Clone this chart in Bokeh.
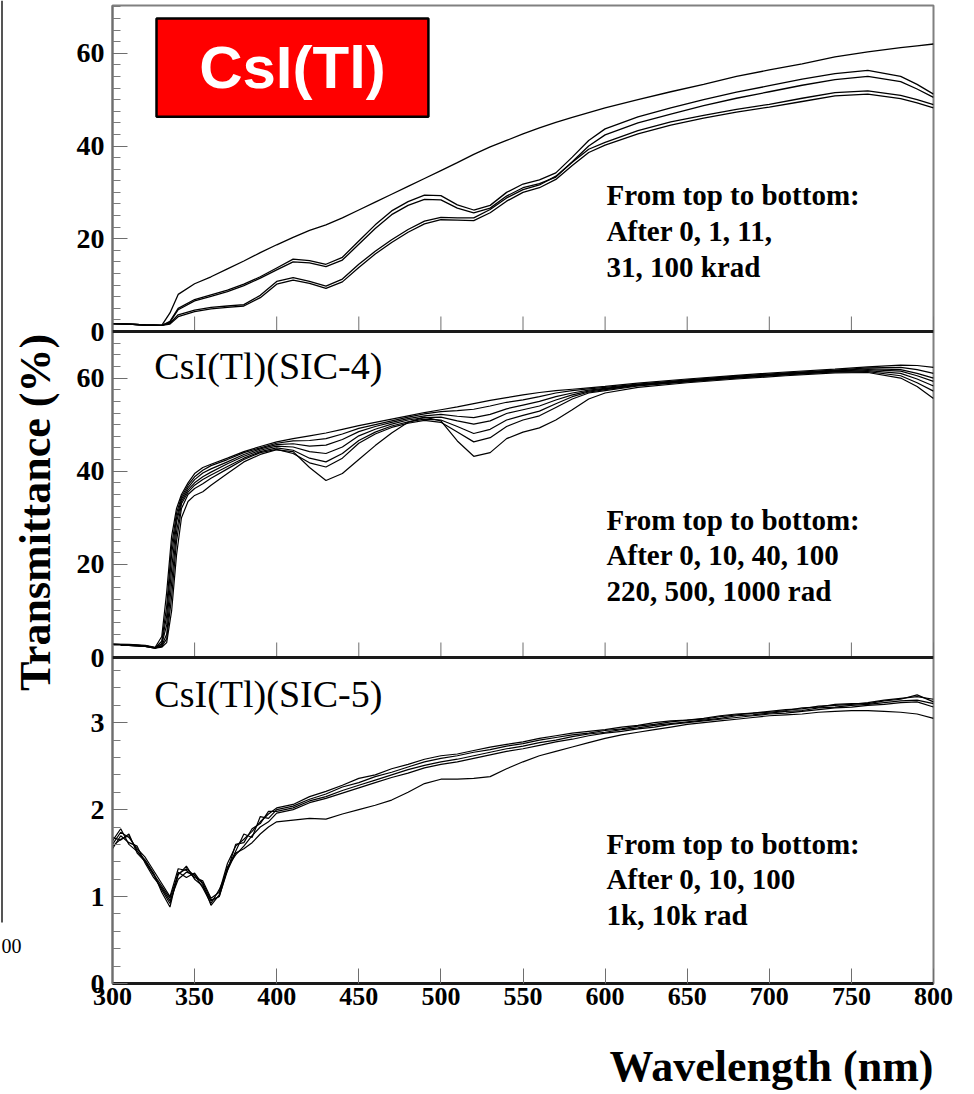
import math
from bokeh.plotting import figure
from bokeh.layouts import row, column
from bokeh.models import Range1d, FixedTicker, Label, Span, CustomJSTickFormatter, Title
from bokeh.core.properties import value
from bokeh.embed import file_html
from bokeh.resources import INLINE

SERIF = "Liberation Serif"
SANS = "Liberation Sans"

# ---------------- data: top panel, CsI(Tl), doses in krad ----------------
TOP_WL = [300, 310, 320, 330, 335, 340, 350, 360, 370, 380, 390, 400, 410, 420, 430, 440,
          450, 460, 470, 480, 490, 500, 510, 520, 530, 540, 550, 560, 570, 580, 590, 600,
          620, 640, 660, 680, 700, 720, 740, 760, 780, 790, 800]
TOP_0 = [1.7, 1.6, 1.4, 1.3, 4.0, 8.0, 10.3, 11.8, 13.5, 15.2, 17.0, 18.7, 20.3, 21.8, 23.0, 24.5,
         26.2, 27.9, 29.6, 31.3, 33.0, 34.7, 36.4, 38.2, 39.8, 41.2, 42.6, 43.9, 45.1, 46.2, 47.2, 48.2,
         50.0, 51.7, 53.3, 55.0, 56.4, 57.7, 59.2, 60.3, 61.2, 61.6, 62.0]
TOP_1 = [1.7, 1.6, 1.4, 1.3, 2.2, 5.0, 6.9, 7.9, 8.9, 10.2, 11.8, 13.7, 15.6, 15.3, 14.5, 16.0,
         19.5, 23.0, 26.0, 28.0, 29.4, 29.3, 27.3, 26.2, 27.2, 30.0, 31.8, 32.7, 34.2, 37.6, 41.2, 43.7,
         46.3, 48.2, 50.0, 51.6, 53.0, 54.4, 55.6, 56.3, 55.0, 53.3, 51.2]
TOP_11 = [1.7, 1.6, 1.4, 1.3, 2.0, 4.7, 6.6, 7.6, 8.6, 9.9, 11.5, 13.3, 15.0, 14.8, 14.0, 15.4,
          18.8, 22.2, 25.2, 27.2, 28.5, 28.4, 26.6, 25.6, 26.6, 29.2, 31.0, 31.9, 33.3, 36.6, 40.0, 42.4,
          45.0, 46.9, 48.7, 50.3, 51.7, 53.1, 54.3, 55.0, 53.9, 52.3, 50.5]
TOP_31 = [1.7, 1.6, 1.4, 1.3, 1.8, 3.6, 4.6, 5.2, 5.5, 5.8, 7.8, 10.8, 11.6, 10.8, 9.8, 11.3,
          14.5, 17.3, 19.8, 22.0, 23.8, 24.6, 24.5, 24.5, 26.3, 28.8, 30.6, 31.6, 33.5, 36.5, 39.3, 40.8,
          43.3, 45.2, 46.6, 47.9, 49.0, 50.3, 51.5, 51.9, 50.9, 50.0, 48.9]
TOP_100 = [1.7, 1.6, 1.4, 1.3, 1.6, 3.2, 4.3, 4.9, 5.2, 5.5, 7.3, 10.2, 11.1, 10.4, 9.3, 10.7,
           13.8, 16.7, 19.2, 21.4, 23.2, 24.1, 24.0, 23.9, 25.6, 28.1, 30.0, 31.0, 32.8, 35.8, 38.6, 40.2,
           42.6, 44.5, 46.0, 47.3, 48.4, 49.6, 50.8, 51.2, 50.2, 49.3, 48.2]
TOP_SERIES = [TOP_0, TOP_1, TOP_11, TOP_31, TOP_100]

# ---------------- data: middle panel, CsI(Tl)(SIC-4), doses in rad ----------------
MID_WL = [300, 310, 320, 326, 330, 333, 336, 339, 342, 346, 350, 355, 360,
          370, 380, 390, 400, 410, 420, 430, 440, 450, 460, 470, 480, 490, 500, 510, 520,
          530, 540, 550, 560, 570, 580, 590, 600, 620, 650, 680, 710, 740, 760, 780, 790, 800]
MID_0 = [2.9, 2.8, 2.6, 2.2, 4.5, 14, 26, 32, 35, 37.5, 39.5, 40.8, 41.5,
         42.8, 44.2, 45.3, 46.3, 47.0, 47.6, 48.2, 49.0, 49.8, 50.5, 51.2, 51.9, 52.6, 53.2, 53.8, 54.5,
         55.2, 55.8, 56.4, 56.9, 57.3, 57.6, 57.9, 58.2, 58.9, 59.8, 60.6, 61.3, 61.9, 62.4, 62.8, 62.7, 62.3]
MID_10 = [2.8, 2.7, 2.5, 2.1, 3.5, 11, 24, 31, 34.5, 37, 38.8, 40.2, 41.2,
          42.5, 44.0, 45.0, 46.0, 46.5, 46.6, 47.0, 48.0, 49.2, 50.0, 50.8, 51.6, 52.3, 52.8, 53.0, 53.3,
          54.0, 54.8, 55.3, 56.0, 56.8, 57.3, 57.7, 58.0, 58.7, 59.6, 60.4, 61.1, 61.7, 62.2, 62.3, 61.8, 61.0]
MID_40 = [2.7, 2.6, 2.4, 2.0, 3.0, 9, 22, 30, 34, 36.5, 38.2, 39.6, 40.5,
          42.0, 43.6, 44.8, 45.7, 45.9, 45.4, 45.6, 46.8, 48.5, 49.6, 50.5, 51.3, 51.9, 52.2, 51.8, 51.5,
          52.2, 53.4, 54.2, 55.0, 56.0, 56.8, 57.4, 57.8, 58.6, 59.5, 60.3, 61.0, 61.6, 62.0, 61.8, 61.0, 60.0]
MID_100 = [2.8, 2.7, 2.5, 2.1, 2.8, 7, 19, 29, 33.5, 36, 37.5, 38.8, 39.8,
           41.6, 43.2, 44.5, 45.4, 45.2, 44.2, 43.8, 45.2, 47.6, 49.0, 50.1, 51.0, 51.5, 51.6, 50.8, 50.1,
           50.8, 52.4, 53.2, 54.0, 55.3, 56.4, 57.2, 57.7, 58.5, 59.4, 60.2, 60.9, 61.5, 61.8, 61.5, 60.5, 59.3]
MID_220 = [2.7, 2.6, 2.4, 2.0, 2.5, 5, 16, 27, 33, 35.5, 37, 38.2, 39.2,
           41.0, 42.8, 44.2, 45.0, 44.5, 42.8, 42.0, 43.8, 46.6, 48.4, 49.7, 50.6, 51.2, 51.0, 49.6, 48.1,
           49.0, 51.0, 52.0, 52.9, 54.5, 56.0, 57.0, 57.5, 58.4, 59.3, 60.1, 60.8, 61.4, 61.6, 61.0, 59.8, 58.3]
MID_500 = [2.8, 2.7, 2.5, 2.1, 2.4, 4, 13, 25, 32, 35, 36.3, 37.3, 38.5,
           40.5, 42.5, 44.0, 44.7, 43.8, 41.8, 40.9, 42.8, 46.0, 48.0, 49.4, 50.3, 50.9, 50.5, 48.4, 46.3,
           47.2, 49.6, 51.0, 51.9, 53.7, 55.5, 56.8, 57.3, 58.3, 59.2, 60.0, 60.7, 61.3, 61.4, 60.5, 59.0, 57.2]
MID_1000 = [2.7, 2.6, 2.4, 2.0, 2.2, 3.2, 10, 22, 30, 33.5, 34.8, 35.6, 37.0,
            39.5, 42.0, 43.6, 44.6, 44.2, 40.8, 38.0, 39.5, 42.5, 45.5, 48.2, 50.5, 51.6, 50.8, 46.5, 43.2,
            44.0, 47.0, 48.4, 49.3, 51.0, 53.2, 55.5, 56.8, 58.0, 59.0, 59.8, 60.5, 61.1, 61.2, 60.0, 58.2, 55.6]
MID_SERIES = [MID_0, MID_10, MID_40, MID_100, MID_220, MID_500, MID_1000]

# ---------------- data: bottom panel, CsI(Tl)(SIC-5), doses in rad ----------------
BOT_WL = [300, 305, 310, 315, 320, 325, 330, 335, 340, 345, 350, 355, 360, 365, 370, 375, 380,
          385, 390, 395, 400,
          410, 420, 430, 440, 450, 460, 470, 480, 490, 500, 510, 520, 530, 540, 550, 560, 570,
          580, 590, 600, 610, 620, 630, 640, 650, 660, 670, 680, 690, 700, 710, 720, 730, 740,
          750, 760, 770, 780, 790, 800]
BOT_0 = [1.60, 1.74, 1.68, 1.55, 1.45, 1.30, 1.15, 1.00, 1.32, 1.30, 1.22, 1.18, 0.98, 1.05, 1.38, 1.58,
         1.66, 1.75, 1.86, 1.95, 2.02,
         2.06, 2.15, 2.21, 2.28, 2.36, 2.40, 2.47, 2.52, 2.58, 2.62, 2.64, 2.68, 2.72, 2.75, 2.78, 2.82,
         2.85, 2.88, 2.90, 2.92, 2.95, 2.97, 3.00, 3.02, 3.03, 3.05, 3.08, 3.10, 3.11, 3.13, 3.15, 3.16,
         3.19, 3.20, 3.21, 3.23, 3.26, 3.28, 3.30, 3.27]
BOT_10 = [1.68, 1.65, 1.72, 1.50, 1.40, 1.25, 1.08, 0.92, 1.25, 1.35, 1.20, 1.12, 0.95, 1.00, 1.32, 1.52,
          1.72, 1.68, 1.92, 1.90, 2.00,
          2.04, 2.12, 2.18, 2.26, 2.31, 2.38, 2.43, 2.49, 2.55, 2.59, 2.62, 2.66, 2.69, 2.73, 2.76, 2.80,
          2.83, 2.86, 2.88, 2.91, 2.93, 2.96, 2.98, 3.01, 3.03, 3.04, 3.07, 3.09, 3.11, 3.12, 3.14, 3.17,
          3.18, 3.21, 3.22, 3.22, 3.25, 3.27, 3.32, 3.24]
BOT_100 = [1.55, 1.70, 1.62, 1.58, 1.38, 1.22, 1.10, 0.95, 1.20, 1.28, 1.25, 1.10, 0.92, 1.08, 1.30, 1.60,
           1.62, 1.78, 1.84, 1.98, 1.98,
           2.02, 2.10, 2.15, 2.22, 2.28, 2.34, 2.40, 2.46, 2.51, 2.55, 2.58, 2.62, 2.66, 2.70, 2.73, 2.77,
           2.80, 2.84, 2.87, 2.89, 2.92, 2.94, 2.97, 2.99, 3.01, 3.03, 3.05, 3.08, 3.09, 3.11, 3.13, 3.14,
           3.17, 3.18, 3.20, 3.21, 3.23, 3.25, 3.26, 3.22]
BOT_1K = [1.64, 1.78, 1.60, 1.52, 1.42, 1.27, 1.05, 0.88, 1.28, 1.22, 1.27, 1.14, 0.90, 1.02, 1.34, 1.48,
          1.58, 1.70, 1.80, 1.86, 1.96,
          2.00, 2.08, 2.13, 2.19, 2.25, 2.31, 2.37, 2.42, 2.48, 2.52, 2.55, 2.59, 2.63, 2.67, 2.70, 2.74,
          2.78, 2.81, 2.85, 2.88, 2.90, 2.93, 2.95, 2.98, 3.00, 3.02, 3.04, 3.06, 3.08, 3.10, 3.11, 3.13,
          3.15, 3.17, 3.18, 3.20, 3.21, 3.23, 3.24, 3.18]
BOT_10K = [1.58, 1.66, 1.70, 1.53, 1.40, 1.26, 1.12, 0.98, 1.26, 1.32, 1.24, 1.16, 0.96, 1.00, 1.30, 1.50,
           1.55, 1.62, 1.72, 1.80, 1.86,
           1.88, 1.90, 1.89, 1.95, 2.00, 2.05, 2.11, 2.20, 2.30, 2.35, 2.35, 2.36, 2.38, 2.47, 2.55, 2.62,
           2.67, 2.72, 2.77, 2.82, 2.86, 2.89, 2.92, 2.95, 2.98, 3.00, 3.02, 3.04, 3.06, 3.08, 3.09, 3.10,
           3.12, 3.13, 3.14, 3.14, 3.13, 3.12, 3.10, 3.05]
BOT_SERIES = [BOT_0, BOT_10, BOT_100, BOT_1K, BOT_10K]

# ---------------- ticks and texts ----------------
X_TICKS = [300, 350, 400, 450, 500, 550, 600, 650, 700, 750, 800]
PCT_TICKS = [0, 20, 40, 60]
PCT_MINOR_STEP = 2.5
BOT_TICKS = [0, 1, 2, 3]
BOT_MINOR_STEP = 0.2
TOP_MAX, MID_MAX, BOT_MAX = 70.3, 70.0, 3.75

Y_TITLE = "Transmittance (%)"
X_TITLE = "Wavelength (nm)"
BOX_TEXT = "CsI(Tl)"
MID_TITLE = "CsI(Tl)(SIC-4)"
BOT_TITLE = "CsI(Tl)(SIC-5)"
TOP_NOTE = ["From top to bottom:", "After 0, 1, 11,", "31, 100 krad"]
MID_NOTE = ["From top to bottom:", "After 0, 10, 40, 100", "220, 500, 1000 rad"]
BOT_NOTE = ["From top to bottom:", "After 0, 10, 100", "1k, 10k rad"]

FRAME_W = 821
PANEL_H = 326
LEFT_W = 60
GRAY = "#6e6e6e"

# ---------------- main figure: three stacked panels ----------------
p = figure(frame_width=FRAME_W, frame_height=3 * PANEL_H,
           x_range=Range1d(300, 800), y_range=Range1d(0, 3),
           output_backend="svg", toolbar_location=None,
           min_border_left=52, min_border_right=41, min_border_top=5, min_border_bottom=100)
p.grid.visible = False
p.outline_line_color = "#808080"
p.outline_line_width = 2
p.background_fill_color = "white"
p.border_fill_color = "white"

# panel slot k (0 bottom, 1 middle, 2 top) and each panel's own value range
panels = {
    "top": (2, TOP_MAX),
    "mid": (1, MID_MAX),
    "bot": (0, BOT_MAX),
}
subs = {}
for name, (slot, vmax) in panels.items():
    subs[name] = p.subplot(x_source=p.x_range, y_source=Range1d(0, vmax),
                           x_target=p.x_range, y_target=Range1d(slot, slot + 1))

# left axis: tick positions of each panel expressed in the stacked frame
major_pos, major_lab, minor_pos = [], [], []
for name, ticks, step in (("bot", BOT_TICKS, BOT_MINOR_STEP), ("mid", PCT_TICKS, PCT_MINOR_STEP),
                          ("top", PCT_TICKS, PCT_MINOR_STEP)):
    slot, vmax = panels[name]
    for t in ticks:
        major_pos.append(slot + t / vmax)
        major_lab.append(str(t))
    n = 1
    while n * step < vmax - 1e-9:
        v = n * step
        if all(abs(v - t) > 1e-9 for t in ticks):
            minor_pos.append(slot + v / vmax)
        n += 1

ya = p.yaxis[0]
ya.ticker = FixedTicker(ticks=major_pos, minor_ticks=minor_pos)
ya.formatter = CustomJSTickFormatter(args=dict(pos=major_pos, lab=major_lab), code="""
    for (let i = 0; i < pos.length; i++) {
        if (Math.abs(pos[i] - tick) < 1e-6) { return lab[i] }
    }
    return ""
""")
ya.major_tick_in = 15
ya.major_tick_out = 0
ya.minor_tick_in = 8
ya.minor_tick_out = 0
ya.axis_line_color = GRAY
ya.axis_line_width = 2
ya.major_tick_line_color = GRAY
ya.minor_tick_line_color = "#7a7a7a"
ya.major_label_text_font = SERIF
ya.major_label_text_font_style = "bold"
ya.major_label_text_font_size = "28px"
ya.major_label_text_color = "black"
ya.major_label_standoff = 8

xa = p.xaxis[0]
xa.ticker = FixedTicker(ticks=X_TICKS)
xa.axis_line_color = "#1a1a1a"
xa.axis_line_width = 3
xa.major_tick_in = 15
xa.major_tick_out = 0
xa.major_tick_line_color = GRAY
xa.minor_tick_line_color = None
xa.major_label_text_font = SERIF
xa.major_label_text_font_style = "bold"
xa.major_label_text_font_size = "26px"
xa.major_label_text_color = "black"
xa.major_label_standoff = 4

# x title, right-aligned under the frame
p.add_layout(Title(text=X_TITLE, align="right", text_font=SERIF, text_font_style="bold",
                   text_font_size="44px", text_color="black", standoff=64), "below")

# panel separators (thick axis lines) with their inward wavelength ticks
for slot in (1, 2):
    p.add_layout(Span(location=slot, dimension="width", line_color="#1a1a1a", line_width=3))
    p.segment(x0=X_TICKS, y0=[slot] * len(X_TICKS), x1=X_TICKS,
              y1=[slot + 15 / PANEL_H] * len(X_TICKS), line_color=GRAY, line_width=1)

# ---- top panel ----
sp = subs["top"]
for s in TOP_SERIES:
    sp.line(TOP_WL, s, line_color="black", line_width=1.3)
sp.quad(left=[326.8], right=[492.4], bottom=[46.3], top=[67.5],
        fill_color="#ff0000", line_color="black", line_width=2.5)
sp.text(x=[409.6], y=[57.0], text=[BOX_TEXT], text_align="center", text_baseline="middle",
        text_font=value(SANS), text_font_style="bold", text_font_size="60px", text_color="white")
sp.text(x=[600.9] * 3, y=[29.5, 21.7, 13.9], text=TOP_NOTE, text_align="left", text_baseline="middle",
        text_font=value(SERIF), text_font_style="bold", text_font_size="29px", text_color="black")

# ---- middle panel ----
sp = subs["mid"]
for s in MID_SERIES:
    sp.line(MID_WL, s, line_color="black", line_width=1.2)
sp.text(x=[325.5], y=[62.5], text=[MID_TITLE], text_align="left", text_baseline="middle",
        text_font=value(SERIF), text_font_size="38px", text_color="black")
sp.text(x=[600.9] * 3, y=[29.5, 22.0, 14.2], text=MID_NOTE, text_align="left", text_baseline="middle",
        text_font=value(SERIF), text_font_style="bold", text_font_size="29px", text_color="black")

# ---- bottom panel ----
sp = subs["bot"]
for s in BOT_SERIES:
    sp.line(BOT_WL, s, line_color="black", line_width=1.2)
sp.text(x=[325.5], y=[3.33], text=[BOT_TITLE], text_align="left", text_baseline="middle",
        text_font=value(SERIF), text_font_size="38px", text_color="black")
sp.text(x=[600.9] * 3, y=[1.61, 1.20, 0.79], text=BOT_NOTE, text_align="left", text_baseline="middle",
        text_font=value(SERIF), text_font_style="bold", text_font_size="29px", text_color="black")

# ---- left strip with the y title ----
lf = figure(width=LEFT_W, height=1094, x_range=Range1d(0, LEFT_W), y_range=Range1d(0, 1094),
            output_backend="svg", toolbar_location=None, min_border=0,
            x_axis_location=None, y_axis_location=None)
lf.grid.visible = False
lf.outline_line_color = None
lf.segment(x0=[1.5], y0=[172], x1=[1.5], y1=[1094], line_color="#555555", line_width=2)
lf.add_layout(Label(x=1, y=1094 - 945, text="00", text_align="left", text_baseline="middle",
                    text_font=SERIF, text_font_size="20px", text_color="black"))
lf.add_layout(Label(x=35, y=1094 - 512, angle=math.pi / 2, text=Y_TITLE,
                    text_align="center", text_baseline="middle",
                    text_font=SERIF, text_font_style="bold", text_font_size="44px",
                    text_color="black"))

layout = row(lf, column(p, spacing=0), spacing=0)

with open("out.html", "w") as f:
    f.write(file_html(layout, INLINE))
